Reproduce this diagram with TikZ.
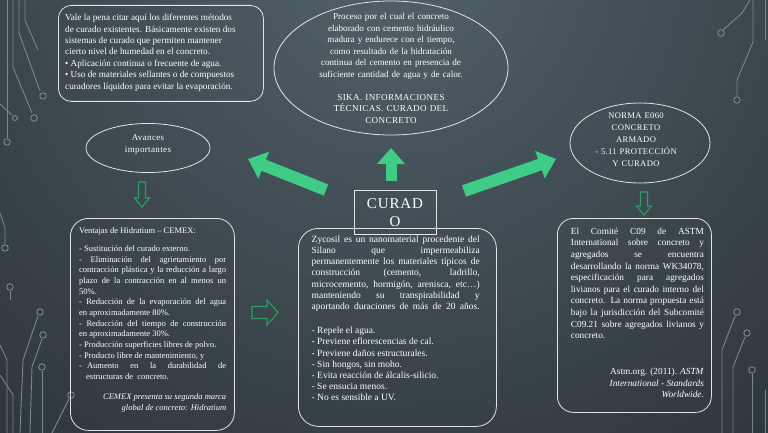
\documentclass[tikz,border=0pt]{standalone}
\usepackage{fontspec}
\setmainfont{Liberation Serif}
\newfontfamily\capsfont{Liberation Serif}[LetterSpace=4]
\newfontfamily\titlefont{Liberation Serif}[LetterSpace=6]
\usetikzlibrary{shapes.geometric,arrows.meta}
\setlength{\parindent}{0pt}
\newcommand\J[1]{{\spaceskip=0pt\xspaceskip=0pt\makebox[\hsize][s]{#1}}}
\newcommand\R[1]{\makebox[\hsize][r]{#1}}
\newcommand\Lf[1]{\makebox[\hsize][l]{#1}}
\definecolor{bginner}{RGB}{82,97,105}
\definecolor{bgouter}{RGB}{22,27,31}
\definecolor{circ}{RGB}{118,136,145}
\definecolor{bigarrow}{RGB}{62,204,134}
\definecolor{hollow}{RGB}{44,158,96}
\definecolor{edge}{RGB}{225,228,230}
\tikzset{
  box/.style={draw=edge, line width=0.8pt, rounded corners=#1, inner sep=0pt},
  box/.default=14pt,
  ell/.style={draw=edge, line width=0.8pt, ellipse, inner sep=0pt},
  txt/.style={text=white, inner sep=0pt, align=justify},
  ctxt/.style={text=white, inner sep=0pt, align=center},
  bigarr/.style={line width=12pt, draw=bigarrow, -{Triangle[width=28pt,length=17pt]}},
  hol/.style={draw=hollow, line width=1.1pt, line join=miter},
  circuit/.style={draw=circ, line width=0.9pt},
  pad/.style={circle, draw=circ, line width=0.9pt, inner sep=0pt, minimum size=6.5pt},
}
\begin{document}
\begin{tikzpicture}[x=1pt,y=-1pt]
\useasboundingbox (0,0) rectangle (768,433);
% background
\begin{scope}
\clip (0,0) rectangle (768,433);
\shade[inner color=bginner, outer color=bgouter] (390,-40) ellipse (1000 and 1000);
\end{scope}
% circuit decoration, left top
\draw[circuit] (19,0) -- (19,33) -- (40,91);
\node[pad] (p1) at (43,96) {};
\draw[circuit] (13,0) -- (13,67) -- (32,113);
\node[pad] (p2) at (34,118) {};
\draw[circuit] (7,0) -- (7,138);
\node[pad] (p3) at (7,142) {};
\draw[circuit] (0,104) -- (12,115);
\node[pad, minimum size=5pt] (p4) at (15,118) {};
\draw[circuit] (25,0) -- (25,20) -- (38,50);
% left bottom
\draw[circuit] (0,213) -- (5,228) -- (5,244);
\node[pad] (p5) at (5,248) {};
\draw[circuit] (10,291) -- (10,300);
\node[pad] (p6) at (10,287) {};
\draw[circuit] (38,316) -- (23,360) -- (20,433);
\node[pad] (p7) at (40,312) {};
\draw[circuit] (42,339) -- (32,367) -- (30,433);
\node[pad] (p8) at (43,335) {};
\draw[circuit] (42,371) -- (42,433);
\node[pad] (p9) at (42,367) {};
\draw[circuit] (52,433) -- (69,399);
\node[pad] (p10) at (71,395) {};
\draw[circuit] (0,345) -- (7,360) -- (7,433);
\draw[circuit] (0,375) -- (13,395) -- (13,433);
% right top
\draw[circuit] (723,30) -- (742,13) -- (750,0);
\node[pad] (p11) at (721,33) {};
\draw[circuit] (737,96) -- (737,80) -- (753,42) -- (753,0);
\node[pad] (p12) at (737,100) {};
% right bottom
\draw[circuit] (735,316) -- (722,350) -- (722,433);
\node[pad] (p13) at (737,312) {};
\draw[circuit] (745,337) -- (733,367) -- (733,433);
\node[pad] (p14) at (747,333) {};
\draw[circuit] (752,374) -- (752,433);
\node[pad] (p15) at (752,370) {};
\draw[circuit] (765,0) -- (765,40);
\draw[circuit] (765,390) -- (765,433);

% top-left box
\node[box=13pt, minimum width=205pt, minimum height=96pt, anchor=north west] (tlbox) at (58,5) {};
\node[txt, text width=185pt, anchor=base west, font=\fontsize{9.2}{11.4}\selectfont] (tltext) at (65,20.7) {\Lf{Vale la pena citar aquí los diferentes métodos}\\
\Lf{de curado existentes. Básicamente existen dos}\\
\Lf{sistemas de curado que permiten mantener}\\
\Lf{cierto nivel de humedad en el concreto.}\\
\Lf{• Aplicación continua o frecuente de agua.}\\
\Lf{• Uso de materiales sellantes o de compuestos}\\
\Lf{curadores líquidos para evitar la evaporación.}};

% top ellipse
\node[ell, minimum width=234pt, minimum height=134pt] (topell) at (391,68) {};
\node[ctxt, text width=200pt, anchor=base, font=\fontsize{9.1}{11.5}\selectfont] (toptext) at (391,20) {Proceso por el cual el concreto\\ elaborado con cemento hidráulico\\ madura y endurece con el tiempo,\\ como resultado de la hidratación\\ continua del cemento en presencia de\\ suficiente cantidad de agua y de calor.\\[11.5pt] {\capsfont SIKA. INFORMACIONES}\\ {\capsfont TÉCNICAS. CURADO DEL}\\ {\capsfont CONCRETO}};

% right ellipse
\node[ell, minimum width=140pt, minimum height=80pt] (rell) at (640,143) {};
\node[ctxt, text width=120pt, anchor=base, font=\fontsize{8.6}{12.1}\capsfont] (rtext) at (636,118.3) {NORMA E060\\ CONCRETO\\ ARMADO\\ - 5.11 PROTECCIÓN\\ Y CURADO};

% avances ellipse
\node[ell, minimum width=124pt, minimum height=49pt] (avell) at (148,148) {};
\node[ctxt, text width=100pt, anchor=base, font=\fontsize{9}{12}\capsfont] (avtext) at (148,140.7) {Avances\\ importantes};

% big green arrows
\coordinate (la1) at (326,190);
\coordinate (la2) at (248,159);
\coordinate (ma1) at (391,181);
\coordinate (ma2) at (391,148);
\coordinate (ra1) at (464,191);
\coordinate (ra2) at (556,159);
\draw[bigarr] (la1) -- (la2);
\draw[bigarr, line width=11pt, -{Triangle[width=27pt,length=16pt]}] (ma1) -- (ma2);
\draw[bigarr] (ra1) -- (ra2);

% hollow arrows
\draw[hol, shift={(142,182)}] (-3.5,0) -- (3.5,0) -- (3.5,16) -- (7.5,16) -- (0,25) -- (-7.5,16) -- (-3.5,16) -- cycle;
\draw[hol, shift={(644,192)}] (-3.5,0) -- (3.5,0) -- (3.5,14) -- (7.5,14) -- (0,23) -- (-7.5,14) -- (-3.5,14) -- cycle;
\draw[hol, shift={(252,300)}] (0,6.5) -- (15,6.5) -- (15,0) -- (26,12.5) -- (15,25) -- (15,18.5) -- (0,18.5) -- cycle;

% left bottom box
\node[box=18pt, minimum width=164pt, minimum height=212pt, anchor=north west] (lbox) at (70,218) {};
\node[txt, text width=147pt, anchor=base west, font=\fontsize{8.5}{10.63}\selectfont] (ltext) at (79,233.3) {\Lf{Ventajas de Hidratium – CEMEX:}\\[7.8pt]
\Lf{- Sustitución del curado externo.}\\
\J{- Eliminación del agrietamiento por}\\
\J{contracción plástica y la reducción a largo}\\
\J{plazo de la contracción en al menos un}\\
\Lf{50\%.}\\
\J{- Reducción de la evaporación del agua}\\
\Lf{en aproximadamente 80\%.}\\
\J{- Reducción del tiempo de construcción}\\
\Lf{en aproximadamente 30\%.}\\
\Lf{- Producción superficies libres de polvo.}\\
\Lf{- Producto libre de mantenimiento, y}\\
\J{-\hspace{5pt}Aumento en la durabilidad de}\\
\Lf{\hspace*{7pt}estructuras de\ \ concreto.}\\[10pt]
\R{\itshape CEMEX presenta su segunda marca}\\
\R{\itshape global de concreto: Hidratium}};

% CURADO box
\node[draw=edge, line width=0.8pt, minimum width=82pt, minimum height=44pt, inner sep=0pt] (cbox) at (395,212) {};
\node[ctxt, text width=80pt, anchor=base, font=\fontsize{15}{18.4}\titlefont] (ctext) at (395,208.3) {CURAD\\O};

% middle box
\node[box=20pt, minimum width=198pt, minimum height=198pt, anchor=north west] (mbox) at (298,228) {};
\node[txt, text width=168pt, anchor=base west, font=\fontsize{9.5}{11.2}\selectfont] (mtext) at (311.5,242.3) {\J{Zycosil es un nanomaterial procedente del}\\
\J{Silano que impermeabiliza}\\
\J{permanentemente los materiales típicos de}\\
\J{construcción (cemento, ladrillo,}\\
\J{microcemento, hormigón, arenisca, etc…)}\\
\J{manteniendo su transpirabilidad y}\\
\J{aportando duraciones de más de 20 años.}\\[13pt]
\Lf{- Repele el agua.}\\
\Lf{- Previene eflorescencias de cal.}\\
\Lf{- Previene daños estructurales.}\\
\Lf{- Sin hongos, sin moho.}\\
\Lf{- Evita reacción de álcalis-silicio.}\\
\Lf{- Se ensucia menos.}\\
\Lf{- No es sensible a UV.}};

% right box
\node[box=16pt, minimum width=154pt, minimum height=194pt, anchor=north west] (rbox) at (557,218) {};
\node[txt, text width=133pt, anchor=base west, font=\fontsize{9.3}{11.6}\selectfont] (rbtext) at (570.7,234.3) {\J{El Comité C09 de ASTM}\\
\J{International sobre concreto y}\\
\J{agregados se encuentra}\\
\J{desarrollando la norma WK34078,}\\
\J{especificación para agregados}\\
\J{livianos para el curado interno del}\\
\J{concreto. La norma propuesta está}\\
\J{bajo la jurisdicción del Subcomité}\\
\J{C09.21 sobre agregados livianos y}\\
\Lf{concreto.}\\[24.4pt]
\R{Astm.org. (2011). \textit{ASTM}}\\
\R{\textit{International - Standards}}\\
\R{\textit{Worldwide}.}};
\end{tikzpicture}
\end{document}
